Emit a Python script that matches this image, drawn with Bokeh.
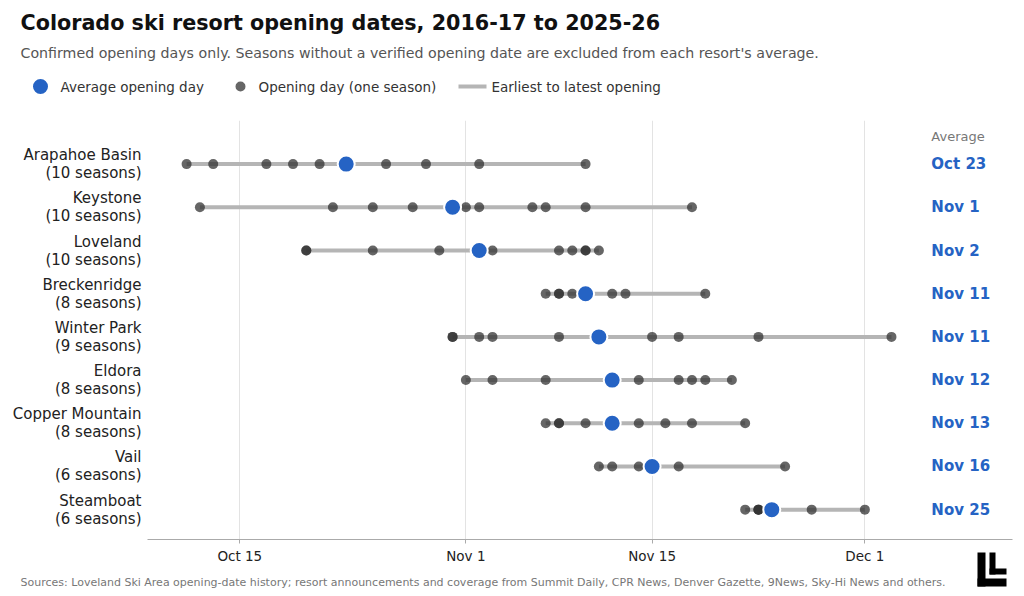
import numpy as np
from bokeh.plotting import figure
from bokeh.layouts import column
from bokeh.models import ColumnDataSource, FixedTicker, Label
from bokeh.core.properties import value
from bokeh.embed import file_html
from bokeh.resources import INLINE

# ---------------- data (day numbers: Oct 1 = 0) ----------------
resorts = ["Arapahoe Basin", "Keystone", "Loveland", "Breckenridge", "Winter Park",
           "Eldora", "Copper Mountain", "Vail", "Steamboat"]
seasons = [10, 10, 10, 8, 9, 8, 8, 6, 6]

arapahoe_basin = [10, 12, 16, 18, 20, 22, 25, 28, 32, 40]
keystone = [11, 21, 24, 27, 31, 32, 36, 37, 40, 48]
loveland = [19, 19, 24, 29, 33, 38, 39, 40, 40, 41]
breckenridge = [37, 38, 38, 39, 40, 42, 43, 49]
winter_park = [30, 30, 32, 33, 38, 45, 47, 53, 63]
eldora = [31, 33, 37, 44, 47, 48, 49, 51]
copper_mountain = [37, 38, 38, 40, 44, 46, 48, 52]
vail = [41, 42, 44, 45, 47, 55]
steamboat = [52, 53, 53, 53, 57, 61]

avg_labels = ["Oct 23", "Nov 1", "Nov 2", "Nov 11", "Nov 11", "Nov 12", "Nov 13",
              "Nov 16", "Nov 25"]

tick_days = [14, 31, 45, 61]
tick_labels = ["Oct 15", "Nov 1", "Nov 15", "Dec 1"]

legend_labels = ["Average opening day", "Opening day (one season)", "Earliest to latest opening"]

title_text = "Colorado ski resort opening dates, 2016-17 to 2025-26"
subtitle_text = ("Confirmed opening days only. Seasons without a verified opening date "
                 "are excluded from each resort's average.")
source_text = ("Sources: Loveland Ski Area opening-date history; resort announcements and "
               "coverage from Summit Daily, CPR News, Denver Gazette, 9News, Sky-Hi News and others.")

all_days = [arapahoe_basin, keystone, loveland, breckenridge, winter_park, eldora,
            copper_mountain, vail, steamboat]

# ---------------- derived ----------------
n = len(resorts)
row_y = [n - i for i in range(n)]
dot_x, dot_y = [], []
for days, y in zip(all_days, row_y):
    dot_x += days
    dot_y += [y] * len(days)
dots = ColumnDataSource(dict(x=dot_x, y=dot_y))
rng = ColumnDataSource(dict(x0=[min(d) for d in all_days], x1=[max(d) for d in all_days], y=row_y))
avg = ColumnDataSource(dict(x=[float(np.floor(np.mean(d))) for d in all_days], y=row_y,
                            lab=avg_labels))

FONT = "DejaVu Sans"
BLUE = "#2563C4"
DOT = "#333333"
RANGE = "#b5b5b5"
W = 1024


def blank(height, y0, y1, **kw):
    f = figure(width=W, height=height, output_backend="svg", toolbar_location=None,
               x_range=(0, W), y_range=(y1, y0), x_axis_type=None, y_axis_type=None,
               min_border=0, min_border_left=0, min_border_right=0, min_border_top=0,
               min_border_bottom=0, outline_line_color=None, frame_align=False, **kw)
    f.grid.visible = False
    return f


# ---------------- header ----------------
head = blank(112, 0, 112)
head.text(x=[20], y=[22], text=[title_text], text_font=value(FONT), text_font_size="20.7px",
          text_font_style="bold", text_color="#111111", text_baseline="middle")
head.text(x=[20], y=[52], text=[subtitle_text], text_font=value(FONT), text_font_size="14.2px",
          text_color="#555555", text_baseline="middle")
head.scatter(x=[40], y=[86], size=15, fill_color=BLUE, line_color=None)
head.scatter(x=[240], y=[86], size=10, fill_color=DOT, fill_alpha=0.75, line_color=None)
head.segment(x0=[458], y0=[86], x1=[486], y1=[86], line_color=RANGE, line_width=4)
head.text(x=[60, 258, 491], y=[86, 86, 86], text=legend_labels, text_font=value(FONT),
          text_font_size="13.5px", text_color="#333333", text_baseline="middle")

# ---------------- main chart ----------------
p = figure(width=W, height=454, output_backend="svg", toolbar_location=None,
           x_range=(7.06, 72.1), y_range=(0.309, 10.01), frame_align=False,
           min_border_left=147, min_border_right=12, min_border_top=8, min_border_bottom=25,
           background_fill_color="white", border_fill_color="white", outline_line_color=None)

p.segment(x0="x0", y0="y", x1="x1", y1="y", source=rng, line_color=RANGE, line_width=4)
p.scatter("x", "y", source=dots, size=10, fill_color=DOT, fill_alpha=0.75, line_color=None)
p.scatter("x", "y", source=avg, size=17, fill_color=BLUE, line_color="white", line_width=2)

p.text(x=66.0, y="y", text="lab", source=avg, text_color=BLUE,
       text_font=value(FONT), text_font_size="15px", text_font_style="bold",
       text_baseline="middle", text_align="left")
p.add_layout(Label(x=66.0, y=9.645, text="Average", text_color="#777777",
                   text_font=FONT, text_font_size="13px", text_baseline="middle"))

p.xaxis.ticker = FixedTicker(ticks=tick_days)
p.xaxis.major_label_overrides = {d: l for d, l in zip(tick_days, tick_labels)}
p.xaxis.axis_line_color = "#aaaaaa"
p.xaxis.major_tick_line_color = "#aaaaaa"
p.xaxis.major_tick_out = 4
p.xaxis.major_tick_in = 0
p.xaxis.minor_tick_line_color = None
p.xaxis.major_label_text_font = FONT
p.xaxis.major_label_text_font_size = "13.5px"
p.xaxis.major_label_text_color = "#222222"
p.xaxis.major_label_standoff = 4

p.yaxis.ticker = FixedTicker(ticks=row_y)
p.yaxis.major_label_overrides = {y: f"{r}\n({s} seasons)" for y, r, s in zip(row_y, resorts, seasons)}
p.yaxis.axis_line_color = None
p.yaxis.major_tick_line_color = None
p.yaxis.minor_tick_line_color = None
p.yaxis.major_tick_out = 0
p.yaxis.major_tick_in = 0
p.yaxis.major_label_text_font = FONT
p.yaxis.major_label_text_font_size = "15px"
p.yaxis.major_label_text_line_height = 1.0
p.yaxis.major_label_text_color = "#222222"
p.yaxis.major_label_text_baseline = "alphabetic"
p.yaxis.major_label_standoff = 6

p.xgrid.ticker = FixedTicker(ticks=tick_days)
p.xgrid.grid_line_color = "#e3e3e3"
p.ygrid.grid_line_color = None

# ---------------- footer (overlaps the axis band, transparent) ----------------
foot = blank(60, 536, 596, border_fill_alpha=0, background_fill_alpha=0)
foot.margin = (-30, 0, 0, 0)
foot.text(x=[20], y=[582], text=[source_text], text_font=value(FONT), text_font_size="11px",
          text_color="#777777", text_baseline="middle")
foot.quad(left=[977, 977, 989, 989], right=[985, 1006, 995, 1006],
          top=[552, 578, 552, 568], bottom=[586, 586, 574, 574],
          fill_color="black", line_color=None)

layout = column(head, p, foot, spacing=0)
open("out.html", "w").write(file_html(layout, INLINE))
